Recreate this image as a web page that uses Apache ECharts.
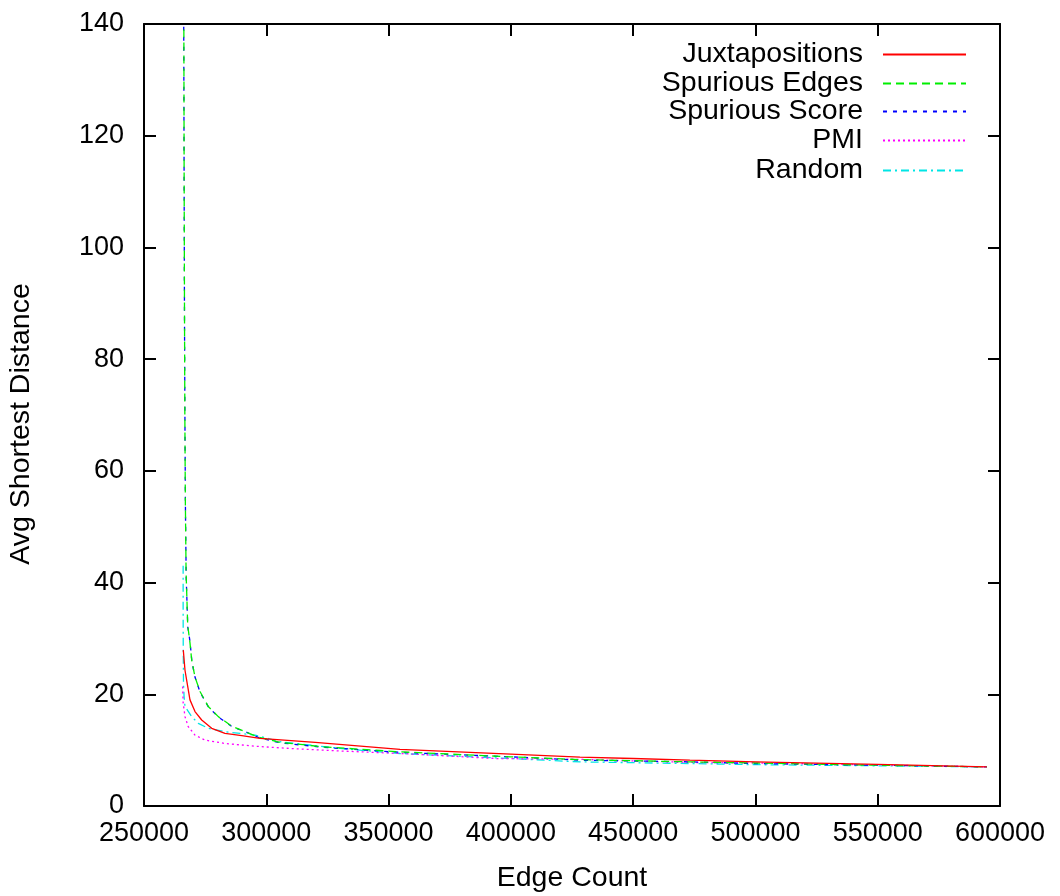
<!DOCTYPE html>
<html>
<head>
<meta charset="utf-8">
<script src="https://cdn.jsdelivr.net/npm/echarts@6/dist/echarts.min.js"></script>
<style>
html,body{margin:0;padding:0;background:#fff;}
#chart{width:1060px;height:896px;}
</style>
</head>
<body>
<div id="chart"></div>
<script>
const xTicks = { min: 250000, max: 600000, step: 50000 };
const yTicks = { min: 0, max: 140, step: 20 };
const seriesNames = ['Juxtapositions', 'Spurious Edges', 'Spurious Score', 'PMI', 'Random'];

const juxtapositions = [[266070,27.9],[266760,24.3],[267870,21.4],[268800,19.0],[270850,16.9],[273590,15.4],[277680,13.9],[283100,13.0],[290000,12.6],[297400,12.1],[320000,11.4],[354660,10.15],[400000,9.3],[428250,8.75],[450000,8.5],[473220,8.2],[500000,7.9],[550000,7.45],[594600,7.0]];
const spuriousEdges = [[266300,139],[266400,115],[266550,90],[266700,70],[266900,55],[267200,42],[267870,32.4],[268800,29.2],[269500,26.1],[270850,23.1],[272900,20.5],[276290,17.8],[280380,16.0],[285850,14.3],[291290,13.3],[297000,12.3],[305600,11.4],[323300,10.6],[354660,9.7],[400000,8.8],[428250,8.3],[473220,7.9],[500000,7.7],[550000,7.3],[594600,7.0]];
const spuriousScore = [[266250,139.5],[266400,112],[266550,88],[266750,68],[266950,53],[267250,41],[267900,32],[268800,29.5],[269600,25.8],[270900,23.0],[273000,20.3],[276400,17.7],[280500,15.9],[286000,14.2],[291400,13.3],[297200,12.2],[305800,11.3],[323500,10.5],[355000,9.6],[400000,8.8],[428500,8.2],[473500,7.9],[500000,7.6],[550000,7.3],[594600,7.0]];
const pmi = [[265800,21.4],[266000,18.5],[266760,16.0],[268100,14.2],[270850,12.7],[274940,11.8],[283100,11.2],[295400,10.7],[309700,10.3],[330130,9.85],[354660,9.4],[394150,8.5],[428250,8.35],[473220,7.8],[500000,7.7],[550000,7.35],[594600,7.0]];
const randomSel = [[266000,43],[266000,35],[266050,28],[266150,22],[266400,19.5],[266760,17.8],[269500,16.0],[272200,14.8],[276290,13.9],[283100,13.3],[295400,12.7],[305600,11.5],[330130,10.3],[354660,9.4],[400000,8.5],[428250,7.9],[473220,7.6],[500000,7.4],[550000,7.2],[594600,7.0]];

const FONT = '"Liberation Sans", Arial, Helvetica, sans-serif';
const FS_TICK = 27;
const FS_TEXT = 28.5;
const chart = echarts.init(document.getElementById('chart'), null, {renderer: 'canvas'});

const styles = [
  {color: '#ff0000', type: 'solid'},
  {color: '#00ee00', type: [8, 5]},
  {color: '#0000ff', type: [4, 6]},
  {color: '#ff00ff', type: [2, 3]},
  {color: '#00e5e5', type: [8, 4, 2, 4]}
];
const datas = [juxtapositions, spuriousEdges, spuriousScore, pmi, randomSel];

const axisCommon = {
  axisLine: {show: true, onZero: false, lineStyle: {color: '#000', width: 2}},
  axisTick: {show: true, inside: true, length: 12, lineStyle: {color: '#000', width: 2}},
  splitLine: {show: false}
};

const legendTops = [35, 64, 92, 121, 151];
const legends = seriesNames.map((n, i) => ({
  data: [n],
  right: 88,
  top: legendTops[i],
  align: 'right',
  orient: 'vertical',
  itemWidth: 83,
  itemHeight: 14,
  itemStyle: {color: 'rgba(0,0,0,0)', borderWidth: 0, opacity: 0},
  textStyle: {fontSize: FS_TEXT, fontFamily: FONT, color: '#000', padding: [0, 15, 0, 0]},
  selectedMode: false
}));

chart.setOption({
  animation: false,
  backgroundColor: '#fff',
  textStyle: {fontFamily: FONT},
  grid: {left: 144, right: 60, top: 24, bottom: 90, containLabel: false, outerBoundsMode: 'none'},
  legend: legends,
  xAxis: [
    Object.assign({
      type: 'value', position: 'bottom', min: xTicks.min, max: xTicks.max, interval: xTicks.step,
      axisLabel: {fontSize: FS_TICK, fontFamily: FONT, color: '#000', margin: 14, formatter: v => String(v)},
      name: 'Edge Count', nameLocation: 'middle', nameGap: 58,
      nameTextStyle: {fontSize: FS_TEXT, fontFamily: FONT, color: '#000'}
    }, axisCommon),
    Object.assign({
      type: 'value', position: 'top', min: xTicks.min, max: xTicks.max, interval: xTicks.step,
      axisLabel: {show: false}
    }, axisCommon)
  ],
  yAxis: [
    Object.assign({
      type: 'value', position: 'left', min: yTicks.min, max: yTicks.max, interval: yTicks.step,
      axisLabel: {fontSize: FS_TICK, fontFamily: FONT, color: '#000', margin: 20, formatter: v => String(v)},
      name: 'Avg Shortest Distance', nameLocation: 'middle', nameGap: 108, nameRotate: 90,
      nameTextStyle: {fontSize: FS_TEXT, fontFamily: FONT, color: '#000', padding: [0, 18, 0, 0]}
    }, axisCommon),
    Object.assign({
      type: 'value', position: 'right', min: yTicks.min, max: yTicks.max, interval: yTicks.step,
      axisLabel: {show: false}
    }, axisCommon)
  ],
  series: seriesNames.map((n, i) => ({
    name: n,
    type: 'line',
    data: datas[i],
    xAxisIndex: 0,
    yAxisIndex: 0,
    symbol: 'none',
    showSymbol: false,
    smooth: false,
    lineStyle: {color: styles[i].color, type: styles[i].type, width: 1.3},
    itemStyle: {color: styles[i].color},
    z: 10 - i
  }))
});
</script>
</body>
</html>
